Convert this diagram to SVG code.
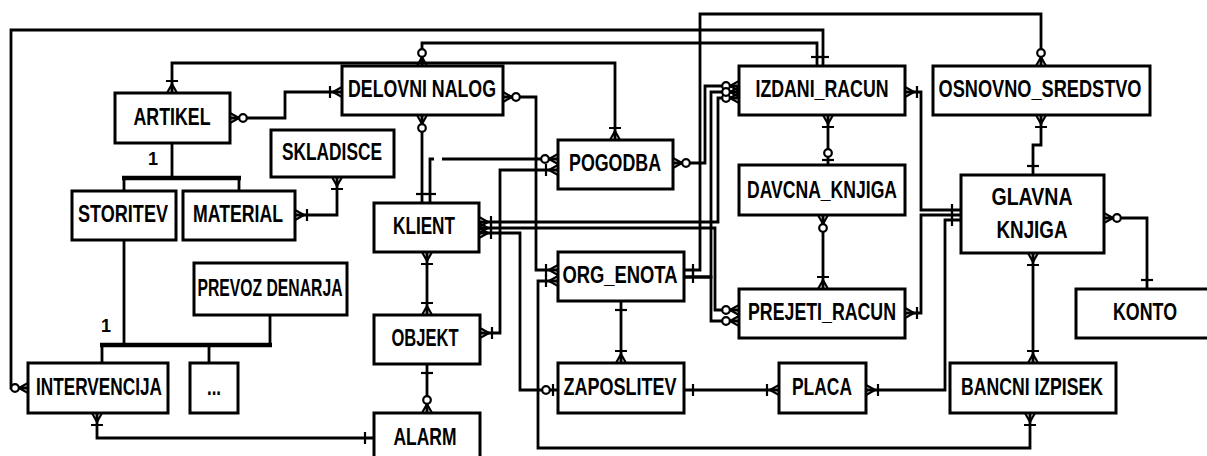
<svg xmlns="http://www.w3.org/2000/svg" width="1207" height="456" viewBox="0 0 1207 456">
<style>
.box{fill:#fff;stroke:#000;stroke-width:3}
.sh{fill:none;stroke:#777;stroke-width:1.5}
.lbl{font-family:"Liberation Sans",Arial,sans-serif;font-weight:bold;font-size:23px;text-anchor:middle;fill:#000}
.num{font-family:"Liberation Sans",Arial,sans-serif;font-weight:bold;font-size:18px;text-anchor:middle;fill:#000}
.c{fill:none;stroke:#000;stroke-width:2.8}
.h{fill:none;stroke:#000;stroke-width:2.8}
.hk{fill:none;stroke:#000;stroke-width:4.5}
.mk{fill:none;stroke:#000;stroke-width:2.2}
.mo{fill:#fff;stroke:#000;stroke-width:2.2}
</style>
<defs>
<marker id="bar" orient="auto-start-reverse" markerUnits="userSpaceOnUse" markerWidth="30" markerHeight="30" refX="0" refY="0" overflow="visible">
<path class="mk" d="M-9,-6V6"/>
</marker>
<marker id="cb" orient="auto-start-reverse" markerUnits="userSpaceOnUse" markerWidth="30" markerHeight="30" refX="0" refY="0" overflow="visible">
<path class="mk" d="M-9,0L0,-5M-9,0L0,0M-9,0L0,5M-12,-6V6"/>
</marker>
<marker id="co" orient="auto-start-reverse" markerUnits="userSpaceOnUse" markerWidth="30" markerHeight="30" refX="0" refY="0" overflow="visible">
<path class="mk" d="M-9,0L0,-5M-9,0L0,0M-9,0L0,5"/>
<circle class="mo" cx="-13" cy="0" r="3.8"/>
</marker>
<marker id="ob" orient="auto-start-reverse" markerUnits="userSpaceOnUse" markerWidth="30" markerHeight="30" refX="0" refY="0" overflow="visible">
<path class="mk" d="M-5,-6V6"/>
<circle class="mo" cx="-12" cy="0" r="3.8"/>
</marker>
</defs>

<g id="connectors">
<path class="c" d="M28,388H11V30H823V66" marker-start="url(#co)" marker-end="url(#bar)"/>
<path class="c" d="M422,66V43H817V66" marker-start="url(#co)" marker-end="url(#bar)"/>
<path class="c" d="M172,93V63H615V140" marker-start="url(#cb)" marker-end="url(#cb)"/>
<path class="c" d="M230,118H285V92H342" marker-start="url(#co)" marker-end="url(#cb)"/>
<path class="c" d="M337,177V215H295" marker-start="url(#cb)" marker-end="url(#cb)"/>
<path class="c" d="M422,115V203" marker-start="url(#co)" marker-end="url(#bar)"/>
<path class="c" d="M430,203V159H434" marker-start="url(#bar)"/>
<path class="c" d="M442,159H558" marker-end="url(#co)"/>
<path class="c" d="M558,170H500V333H480" marker-start="url(#cb)" marker-end="url(#cb)"/>
<path class="c" d="M427,252V315" marker-start="url(#cb)" marker-end="url(#cb)"/>
<path class="c" d="M427,364V413" marker-start="url(#bar)" marker-end="url(#co)"/>
<path class="c" d="M97,413V438H374" marker-start="url(#cb)" marker-end="url(#bar)"/>
<path class="c" d="M503,97H536V270H558" marker-start="url(#co)" marker-end="url(#cb)"/>
<path class="c" d="M558,281H538V448H1030V413" marker-start="url(#cb)" marker-end="url(#cb)"/>
<path class="c" d="M479,233H520V390H558" marker-start="url(#cb)" marker-end="url(#ob)"/>
<path class="c" d="M479,222H718V98H739" marker-start="url(#cb)" marker-end="url(#co)"/>
<path class="c" d="M479,228H715V310H739" marker-start="url(#cb)" marker-end="url(#co)"/>
<path class="c" d="M673,163H705V86H739" marker-start="url(#co)" marker-end="url(#co)"/>
<path class="c" d="M684,270H700V14H1041V66" marker-start="url(#bar)" marker-end="url(#co)"/>
<path class="c" d="M684,277H711V92H739" marker-start="url(#bar)" marker-end="url(#co)"/>
<path class="c" d="M684,277H711V321H739" marker-end="url(#co)"/>
<path class="c" d="M828,115V165" marker-start="url(#cb)" marker-end="url(#ob)"/>
<path class="c" d="M823,215V289" marker-start="url(#co)" marker-end="url(#cb)"/>
<path class="c" d="M905,92H921V210H961" marker-start="url(#cb)" marker-end="url(#bar)"/>
<path class="c" d="M905,313H921V215H961" marker-start="url(#cb)" marker-end="url(#bar)"/>
<path class="c" d="M866,390H945V220H961" marker-start="url(#cb)" marker-end="url(#bar)"/>
<path class="c" d="M684,390H779" marker-start="url(#bar)" marker-end="url(#cb)"/>
<path class="c" d="M621,301V363" marker-start="url(#bar)" marker-end="url(#cb)"/>
<path class="c" d="M1041,115V145H1033V175" marker-start="url(#cb)" marker-end="url(#bar)"/>
<path class="c" d="M1104,218H1147V289" marker-start="url(#co)" marker-end="url(#bar)"/>
<path class="c" d="M1033,253V363" marker-start="url(#cb)" marker-end="url(#cb)"/>
<path class="h" d="M172,143V178M124,178V191M239,178V191"/>
<path class="hk" d="M122,178H241"/>
<path class="h" d="M124,240V345M102,345V363M209,345V363M270,345V315"/>
<path class="hk" d="M100,345H272"/>
</g>

<g id="artikel"><rect class="box" x="115" y="93" width="115" height="50"/><text class="lbl" x="172" y="125" textLength="77" lengthAdjust="spacingAndGlyphs">ARTIKEL</text></g>
<g id="delovni_nalog"><rect class="box" x="342" y="66" width="161" height="49"/><text class="lbl" x="422" y="97" textLength="148" lengthAdjust="spacingAndGlyphs">DELOVNI NALOG</text></g>
<g id="skladisce"><rect class="box" x="271" y="130" width="123" height="47"/><text class="lbl" x="332" y="160" textLength="100" lengthAdjust="spacingAndGlyphs">SKLADISCE</text></g>
<g id="storitev"><rect class="box" x="72" y="191" width="104" height="49"/><text class="lbl" x="123" y="222" textLength="90" lengthAdjust="spacingAndGlyphs">STORITEV</text></g>
<g id="material"><rect class="box" x="183" y="191" width="112" height="49"/><text class="lbl" x="238" y="222" textLength="90" lengthAdjust="spacingAndGlyphs">MATERIAL</text></g>
<g id="klient"><rect class="box" x="374" y="203" width="105" height="49"/><text class="lbl" x="424" y="234" textLength="62" lengthAdjust="spacingAndGlyphs">KLIENT</text></g>
<g id="pogodba"><rect class="box" x="558" y="140" width="115" height="49"/><text class="lbl" x="615" y="171" textLength="92" lengthAdjust="spacingAndGlyphs">POGODBA</text></g>
<g id="izdani_racun"><rect class="box" x="739" y="66" width="166" height="49"/><text class="lbl" x="822" y="97" textLength="133" lengthAdjust="spacingAndGlyphs">IZDANI_RACUN</text></g>
<g id="osnovno_sredstvo"><rect class="box" x="933" y="66" width="217" height="49"/><text class="lbl" x="1040" y="97" textLength="203" lengthAdjust="spacingAndGlyphs">OSNOVNO_SREDSTVO</text></g>
<g id="davcna_knjiga"><rect class="box" x="739" y="165" width="166" height="50"/><text class="lbl" x="822" y="198" textLength="150" lengthAdjust="spacingAndGlyphs">DAVCNA_KNJIGA</text></g>
<g id="glavna_knjiga"><rect class="box" x="961" y="175" width="143" height="78"/><text class="lbl" x="1032" y="205" textLength="81" lengthAdjust="spacingAndGlyphs">GLAVNA</text><text class="lbl" x="1032" y="238" textLength="71" lengthAdjust="spacingAndGlyphs">KNJIGA</text></g>
<g id="konto"><rect class="box" x="1076" y="289" width="140" height="49"/><text class="lbl" x="1145" y="320" textLength="64" lengthAdjust="spacingAndGlyphs">KONTO</text></g>
<g id="prejeti_racun"><rect class="box" x="739" y="289" width="166" height="49"/><text class="lbl" x="822" y="320" textLength="148" lengthAdjust="spacingAndGlyphs">PREJETI_RACUN</text></g>
<g id="placa"><rect class="box" x="779" y="363" width="87" height="50"/><text class="lbl" x="822" y="395" textLength="60" lengthAdjust="spacingAndGlyphs">PLACA</text></g>
<g id="bancni_izpisek"><rect class="box" x="950" y="363" width="166" height="50"/><text class="lbl" x="1032" y="395" textLength="142" lengthAdjust="spacingAndGlyphs">BANCNI IZPISEK</text></g>
<g id="org_enota"><rect class="box" x="558" y="252" width="126" height="49"/><text class="lbl" x="620" y="283" textLength="115" lengthAdjust="spacingAndGlyphs">ORG_ENOTA</text></g>
<g id="zaposlitev"><rect class="box" x="558" y="363" width="126" height="50"/><text class="lbl" x="620" y="395" textLength="113" lengthAdjust="spacingAndGlyphs">ZAPOSLITEV</text></g>
<g id="objekt"><rect class="box" x="374" y="315" width="106" height="49"/><text class="lbl" x="425" y="346" textLength="67" lengthAdjust="spacingAndGlyphs">OBJEKT</text></g>
<g id="alarm"><rect class="box" x="374" y="413" width="106" height="50"/><text class="lbl" x="425" y="445" textLength="63" lengthAdjust="spacingAndGlyphs">ALARM</text></g>
<g id="prevoz_denarja"><rect class="box" x="194" y="263" width="153" height="52"/><text class="lbl" x="270" y="296" textLength="145" lengthAdjust="spacingAndGlyphs">PREVOZ DENARJA</text></g>
<g id="intervencija"><rect class="box" x="28" y="363" width="140" height="50"/><text class="lbl" x="99" y="395" textLength="126" lengthAdjust="spacingAndGlyphs">INTERVENCIJA</text></g>
<g id="etc"><rect class="box" x="190" y="363" width="48" height="50"/><text class="lbl" x="214" y="395" textLength="14" lengthAdjust="spacingAndGlyphs">...</text></g>
<g id="labels"><text class="num" x="153" y="165">1</text><text class="num" x="106" y="332">1</text></g>
</svg>
